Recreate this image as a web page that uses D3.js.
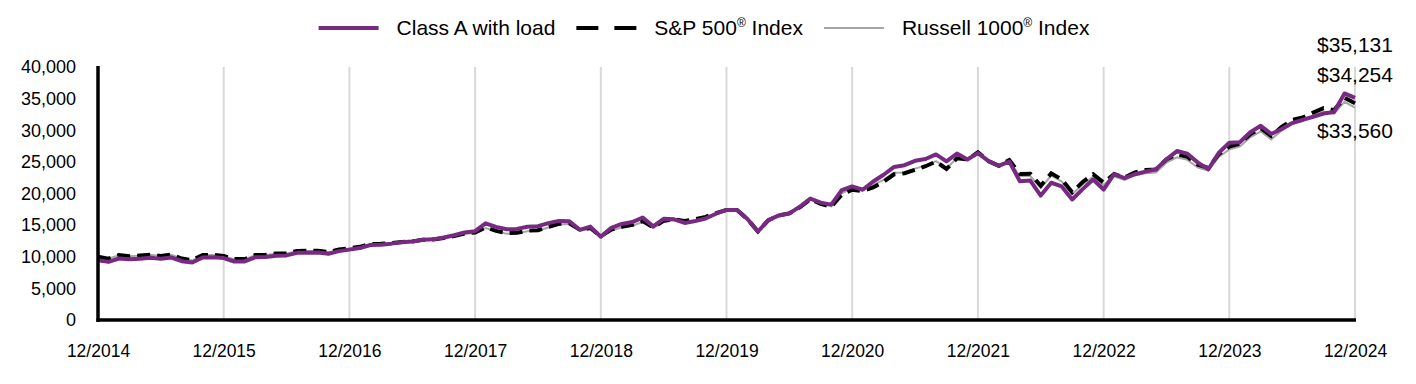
<!DOCTYPE html>
<html>
<head>
<meta charset="utf-8">
<script src="https://cdn.jsdelivr.net/npm/d3@7"></script>
<style>
  body { margin: 0; background: #fff; }
  svg text { font-family: "Liberation Sans", Arial, Helvetica, sans-serif; fill: #000; }
</style>
</head>
<body>
<div id="chart"></div>
<script>
// monthly values, 12/2014 .. 12/2024 (growth of $10,000)
var xLabels = ["12/2014","12/2015","12/2016","12/2017","12/2018","12/2019","12/2020","12/2021","12/2022","12/2023","12/2024"];
var yTicks = [0, 5000, 10000, 15000, 20000, 25000, 30000, 35000, 40000];

var classA = [9450,
  9186,9725,9591,9694,9839,9668,9882,9305,9094,9883,9923,9786,
  9252,9259,9918,9978,10167,10215,10613,10640,10664,10480,10891,11129,
  11375,11863,11913,12073,12279,12393,12674,12751,13053,13396,13849,14044,
  15287,14723,14349,14403,14750,14842,15320,15667,15604,14252,14761,13164,
  14576,15191,15486,16192,14798,15998,15910,15346,15633,16054,16806,17400,
  17393,15961,13990,15783,16534,16863,17903,19190,18553,18238,20532,21115,
  20596,21898,22967,24193,24478,25168,25450,26174,25076,26323,25380,26384,
  25146,24394,25046,21938,22048,19677,21699,21125,19058,20689,22214,20631,
  23050,22420,23050,23460,23830,25400,26710,26300,24880,23830,26450,28020,
  28110,29680,30720,29410,30200,31130,31650,32130,32640,32900,35820,35131];

var sp500 = [10000,
  9700,10258,10096,10193,10324,10124,10337,9713,9473,10273,10304,10141,
  9638,9625,10278,10318,10503,10531,10919,10935,10937,10738,11136,11356,
  11572,12031,12046,12170,12341,12418,12674,12713,12975,13277,13685,13836,
  14629,14089,13731,13783,14115,14203,14731,15211,15298,14252,14543,13230,
  14290,14749,15035,15644,14651,15684,15910,15659,15952,16298,16890,17400,
  17393,15961,13990,15783,16534,16863,17814,19095,18369,17880,19838,20600,
  20392,20955,21873,23041,23202,23743,24308,25047,23882,25556,25380,26517,
  25146,24394,25299,23093,23135,21226,23183,22237,20189,21824,23044,21717,
  23081,22518,23344,23708,23810,25384,26199,25782,24553,24038,26233,27424,
  27885,29374,30320,29083,30525,31621,32007,32785,33487,33182,35130,34254];

var russell1000 = [10000,
  9696,10251,10085,10178,10304,10102,10310,9684,9441,10235,10262,10095,
  9596,9584,10234,10275,10459,10488,10874,10891,10893,10696,11094,11314,
  11528,11984,11998,12120,12289,12366,12620,12657,12917,13216,13621,13770,
  14553,14012,13650,13698,14022,14105,14623,15095,15176,14134,14416,13111,
  14161,14616,14900,15502,14518,15541,15764,15515,15804,16146,16731,17236,
  17237,15833,13850,15688,16468,16829,17814,19133,18424,17952,20017,20847,
  20698,21374,22135,23271,23318,23933,24405,25122,23954,25607,25329,26363,
  24920,24150,25021,22770,22765,20886,22835,21903,19866,21453,22629,21322,
  22712,22135,22900,23210,23334,24902,25727,25318,24111,23605,25787,26977,
  27411,28875,29805,28560,29945,30989,31463,32228,32918,32618,34498,33560];

var seriesNames = ["Class A with load", "S&P 500", "Russell 1000"];
var endLabels = ["$35,131", "$34,254", "$33,560"];

var width = 1416, height = 384;
var margin = {top: 67, right: 61, bottom: 64, left: 98};

var svg = d3.select("#chart")
  .append("svg")
    .attr("width", width)
    .attr("height", height);

var x = d3.scaleLinear()
  .domain([0, classA.length - 1])
  .range([margin.left, width - margin.right]);
var y = d3.scaleLinear()
  .domain([0, 40000])
  .range([height - margin.bottom, margin.top]);

var purple = "#782a82";

// vertical grid lines at each December
svg.append("g")
  .selectAll("line")
  .data(d3.range(12, classA.length, 12))
  .enter()
  .append("line")
    .attr("x1", function(d){ return x(d); })
    .attr("x2", function(d){ return x(d); })
    .attr("y1", y(40000))
    .attr("y2", y(0))
    .attr("stroke", "#d9d9d9")
    .attr("stroke-width", 2);

// axes (labels only, the thick lines drawn separately)
var yAxis = d3.axisLeft(y)
  .tickValues(yTicks)
  .tickSize(0)
  .tickPadding(22)
  .tickFormat(d3.format(","));
var gY = svg.append("g")
  .attr("transform", "translate(" + margin.left + ",0)")
  .call(yAxis);
gY.select(".domain").remove();
gY.selectAll("text").style("font-size", "18px");

var xAxis = d3.axisBottom(x)
  .tickValues(d3.range(0, classA.length, 12))
  .tickSize(0)
  .tickPadding(25)
  .tickFormat(function(d, i){ return xLabels[i]; });
var gX = svg.append("g")
  .attr("transform", "translate(0," + y(0) + ")")
  .call(xAxis);
gX.select(".domain").remove();
gX.selectAll("text").style("font-size", "17.5px");

// lines
var line = d3.line()
  .x(function(d, i){ return x(i); })
  .y(function(d){ return y(d); });

svg.append("path")
  .datum(russell1000)
  .attr("fill", "none")
  .attr("stroke", "#a6a6a6")
  .attr("stroke-width", 2)
  .attr("d", line);

svg.append("path")
  .datum(sp500)
  .attr("fill", "none")
  .attr("stroke", "#000")
  .attr("stroke-width", 4)
  .attr("stroke-dasharray", "13,7")
  .attr("d", line);

svg.append("path")
  .datum(classA)
  .attr("fill", "none")
  .attr("stroke", purple)
  .attr("stroke-width", 4)
  .attr("stroke-linejoin", "round")
  .attr("d", line);

// axis lines
svg.append("line")
  .attr("x1", margin.left).attr("x2", margin.left)
  .attr("y1", y(40000) - 1).attr("y2", y(0) + 2)
  .attr("stroke", "#000").attr("stroke-width", 3.5);
svg.append("line")
  .attr("x1", margin.left - 1.5).attr("x2", x(classA.length - 1) + 1)
  .attr("y1", y(0)).attr("y2", y(0))
  .attr("stroke", "#000").attr("stroke-width", 3.5);

// end value labels
var last = classA.length - 1;
var endY = [y(classA[last]) - 46, y(sp500[last]) - 21, y(russell1000[last]) + 30];
svg.append("g")
  .selectAll("text")
  .data(endLabels)
  .enter()
  .append("text")
    .attr("x", x(last))
    .attr("y", function(d, i){ return endY[i]; })
    .attr("text-anchor", "middle")
    .style("font-size", "21px")
    .text(function(d){ return d; });

// legend
var legend = svg.append("g");
var items = [];
seriesNames.forEach(function(name, i){
  var g = legend.append("g");
  var t = g.append("text")
    .attr("x", 78)
    .attr("y", 35)
    .style("font-size", "21px");
  t.append("tspan").text(name);
  if (i > 0) {
    t.append("tspan").attr("dy", -8).style("font-size", "12px").text("\u00AE");
    t.append("tspan").attr("dy", 8).text(" Index");
  }
  var s = g.append("line")
    .attr("x1", 0).attr("x2", 60)
    .attr("y1", 28).attr("y2", 28);
  if (i === 0) s.attr("stroke", purple).attr("stroke-width", 4);
  if (i === 1) s.attr("stroke", "#000").attr("stroke-width", 4).attr("stroke-dasharray", "22,16");
  if (i === 2) s.attr("stroke", "#a6a6a6").attr("stroke-width", 2);
  items.push({g: g, w: 78 + t.node().getComputedTextLength()});
});
var total = d3.sum(items, function(d){ return d.w; }) + 21 * (items.length - 1);
var cx = 704 - total / 2;
items.forEach(function(it){
  it.g.attr("transform", "translate(" + cx + ",0)");
  cx += it.w + 21;
});
</script>
</body>
</html>
